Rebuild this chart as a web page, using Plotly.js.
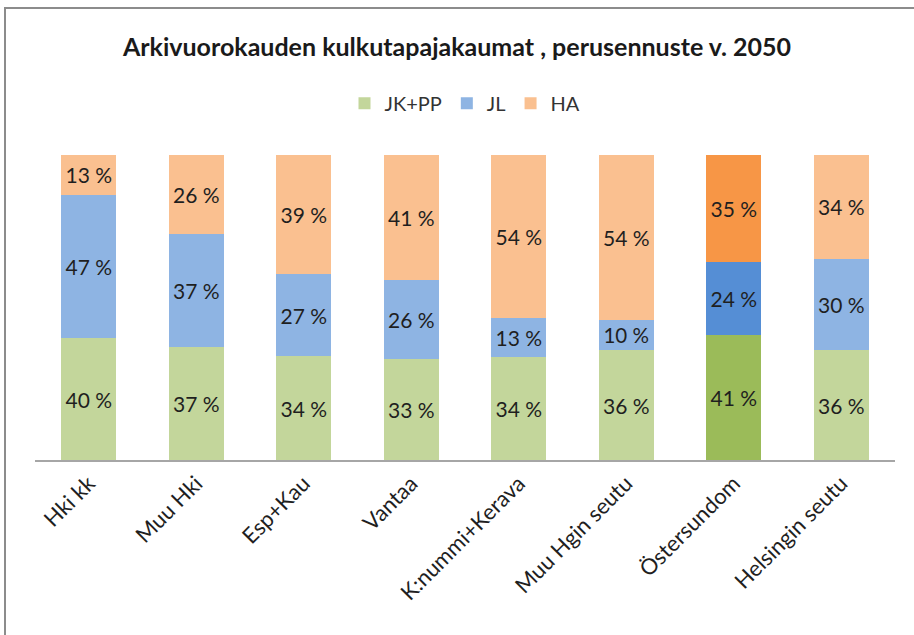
<!DOCTYPE html>
<html>
<head>
<meta charset="utf-8">
<script src="https://cdn.plot.ly/plotly-3.0.1.min.js"></script>
<style>
  html, body { margin: 0; padding: 0; background: #fff; }
  #chart { width: 914px; height: 635px; }
  #frame { position: absolute; left: 4px; top: 7px; width: 1000px; height: 1000px;
           border: 2px solid #8c8c8c; pointer-events: none; box-sizing: border-box; }
</style>
</head>
<body>
<div id="chart"></div>
<div id="frame"></div>
<script>
const categories = ["Hki kk", "Muu Hki", "Esp+Kau", "Vantaa", "K:nummi+Kerava", "Muu Hgin seutu", "Östersundom", "Helsingin seutu"];
const jkpp = [40, 37, 34, 33, 34, 36, 41, 36];
const jl   = [47, 37, 27, 26, 13, 10, 24, 30];
const ha   = [13, 26, 39, 41, 54, 54, 35, 34];
const seriesNames = ["JK+PP", "JL", "HA"];
const lightColors = ["#c3d69b", "#8eb4e3", "#fac090"];
const darkColors  = ["#9bbb59", "#558ed5", "#f79646"];
const highlight = "Östersundom";

const values = [jkpp, jl, ha];
const font = "Lato, 'Open Sans', sans-serif";

const traces = values.map((vals, i) => ({
  type: "bar",
  name: seriesNames[i],
  x: categories,
  y: vals,
  text: vals.map(v => v + " %"),
  textposition: "inside",
  insidetextanchor: "middle",
  textangle: 0,
  textfont: { family: font, size: 21, color: "#1f1f1f" },
  hoverinfo: "x+y+name",
  marker: { color: categories.map(c => c === highlight ? darkColors[i] : lightColors[i]) }
}));

const layout = {
  width: 914, height: 635,
  margin: { l: 35, r: 19, t: 155, b: 175 },
  paper_bgcolor: "#fff", plot_bgcolor: "#fff",
  barmode: "stack",
  barnorm: "percent",
  bargap: 0.485,
  showlegend: true,
  uniformtext: { mode: false },
  title: {
    text: "<b>Arkivuorokauden kulkutapajakaumat , perusennuste v. 2050</b>",
    font: { family: font, size: 25, color: "#1a1a1a" },
    x: 0.5, xanchor: "center", y: 0.926, yanchor: "middle"
  },
  legend: {
    orientation: "h", x: 0.5, xanchor: "center", y: 1.17, yanchor: "middle",
    font: { family: font, size: 20, color: "#333" },
    traceorder: "normal", itemwidth: 30
  },
  xaxis: {
    type: "category",
    showline: true, linecolor: "#a6a6a6", linewidth: 2,
    ticks: "", tickangle: -45,
    tickfont: { family: font, size: 22, color: "#1f1f1f" },
    showgrid: false, zeroline: false, fixedrange: true
  },
  yaxis: {
    range: [0, 100], showticklabels: false, showgrid: false,
    zeroline: false, showline: false, ticks: "", fixedrange: true
  }
};

Plotly.newPlot("chart", traces, layout, { displayModeBar: false, staticPlot: true });
</script>
</body>
</html>
